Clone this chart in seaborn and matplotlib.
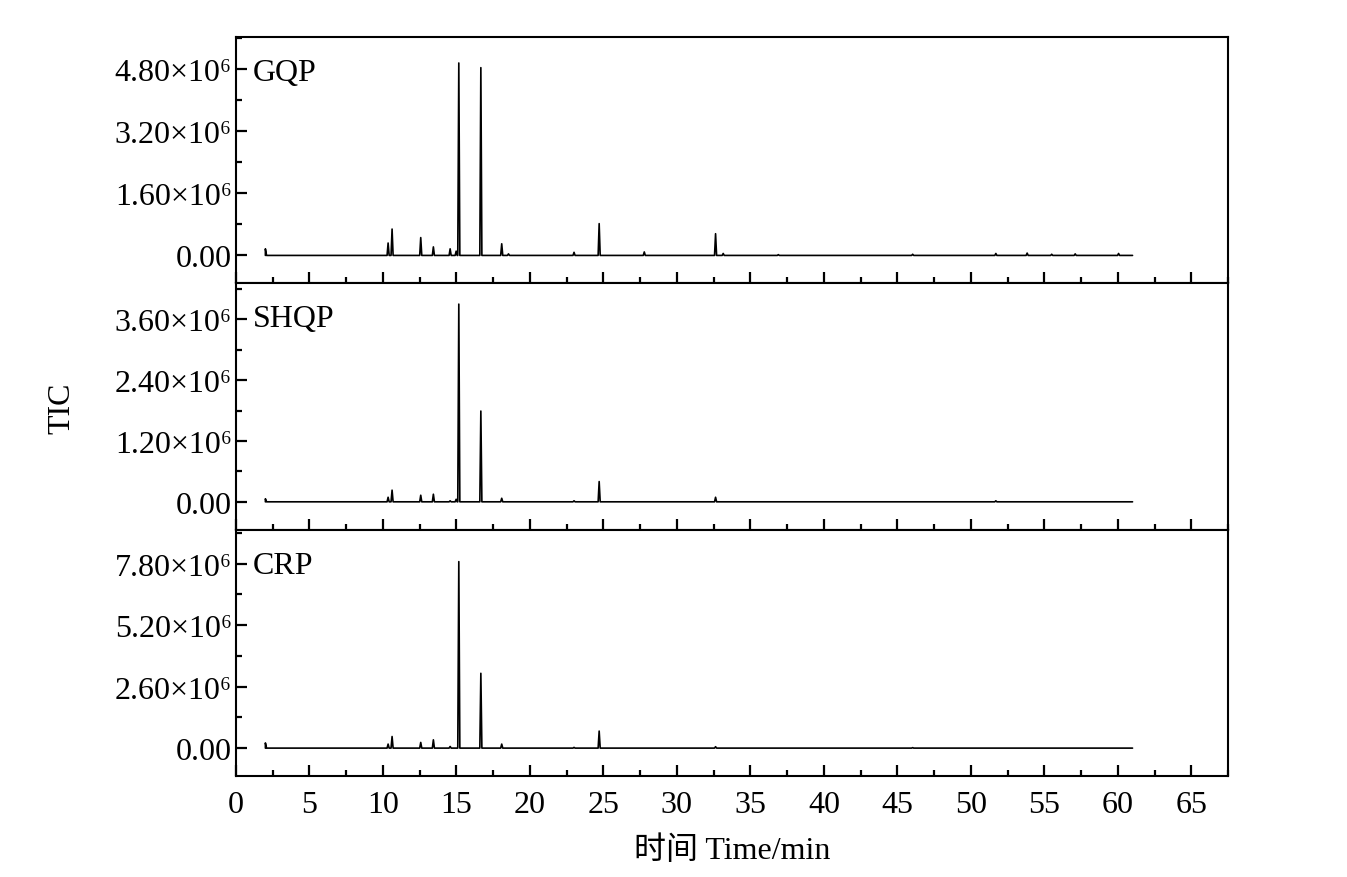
import numpy as np
import pandas as pd
import seaborn as sns
import matplotlib.pyplot as plt
from matplotlib.ticker import MultipleLocator, FuncFormatter

# peak retention times (min) and heights (x10^6)
samples = ["GQP", "SHQP", "CRP"]
run_start = 2.0
run_end = 61.0

gqp_times = [10.35, 10.62, 12.57, 13.43, 14.57, 14.98, 15.16, 16.66, 18.08, 18.54,
             23.0, 24.71, 27.78, 32.63, 33.15, 36.9, 46.04, 51.7, 53.83, 55.5, 57.1, 60.05]
gqp_heights = [0.32, 0.68, 0.46, 0.22, 0.17, 0.11, 4.96, 4.84, 0.30, 0.04,
               0.08, 0.82, 0.09, 0.56, 0.05, 0.02, 0.03, 0.05, 0.06, 0.03, 0.04, 0.05]
gqp_start = 0.17

shqp_times = [10.35, 10.62, 12.57, 13.43, 14.57, 14.98, 15.16, 16.66, 18.08, 23.0, 24.71, 32.63, 51.7]
shqp_heights = [0.09, 0.23, 0.13, 0.15, 0.02, 0.05, 3.90, 1.79, 0.07, 0.02, 0.40, 0.09, 0.02]
shqp_start = 0.06

crp_times = [10.35, 10.62, 12.57, 13.43, 14.57, 15.16, 16.66, 18.08, 23.0, 24.71, 32.63, 46.04]
crp_heights = [0.17, 0.49, 0.24, 0.35, 0.07, 7.88, 3.16, 0.17, 0.03, 0.72, 0.06, 0.02]
crp_start = 0.22

y_step = [1.6e6, 1.2e6, 2.6e6]
y_lims = [(-0.72e6, 5.63e6), (-0.55e6, 4.31e6), (-1.18e6, 9.23e6)]


def build_trace(times, heights, start_h):
    # baseline with narrow triangular peaks at each retention time
    hw = 0.07
    xs = [run_start, run_start, run_start + 0.08]
    ys = [0.0, start_h * 1e6, 0.0]
    for t, h in zip(times, heights):
        xs += [t - hw, t, t + hw]
        ys += [0.0, h * 1e6, 0.0]
    xs.append(run_end)
    ys.append(0.0)
    return pd.DataFrame({"time": xs, "tic": ys})


traces = [build_trace(gqp_times, gqp_heights, gqp_start),
          build_trace(shqp_times, shqp_heights, shqp_start),
          build_trace(crp_times, crp_heights, crp_start)]

sns.set_theme(style="ticks")
plt.rcParams['font.family'] = ['Liberation Serif', 'Noto Sans CJK SC']
plt.rcParams['axes.linewidth'] = 1.5
for key in ['text.color', 'axes.labelcolor', 'xtick.color', 'ytick.color', 'axes.edgecolor']:
    plt.rcParams[key] = 'black'


def fmt(v, pos):
    if abs(v) < 1:
        return "0.00"
    return f"{v / 1e6:.2f}×10\u2076"


fig, axes = plt.subplots(3, 1, figsize=(13.47, 8.78), dpi=100, sharex=True)
fig.subplots_adjust(left=0.1752, right=0.9117, top=0.9567, bottom=0.1150, hspace=0)

for i, ax in enumerate(axes):
    sns.lineplot(data=traces[i], x="time", y="tic", ax=ax, color="black",
                 linewidth=1.2, estimator=None, sort=False)
    ax.set_xlim(0, 67.5)
    ax.set_ylim(*y_lims[i])
    ax.yaxis.set_major_locator(MultipleLocator(y_step[i]))
    ax.yaxis.set_minor_locator(MultipleLocator(y_step[i] / 2))
    ax.yaxis.set_major_formatter(FuncFormatter(fmt))
    ax.xaxis.set_major_locator(MultipleLocator(5))
    ax.xaxis.set_minor_locator(MultipleLocator(2.5))
    ax.tick_params(which="major", direction="in", length=8, width=1.6,
                   labelsize=23, top=False, right=False)
    ax.tick_params(which="minor", direction="in", length=4, width=1.6,
                   top=False, right=False)
    ax.tick_params(axis="x", which="major", pad=10)
    ax.tick_params(axis="y", which="major", pad=3)
    ax.set_xlabel("")
    ax.set_ylabel("")
    ax.text(0.017, 0.915, samples[i], transform=ax.transAxes, fontsize=23,
            ha="left", va="top")
    for s in ax.spines.values():
        s.set_linewidth(1.5)

axes[2].set_xlabel("时间 Time/min", fontsize=23, labelpad=12)
fig.text(0.046, 0.535, "TIC", rotation=90, fontsize=23, ha="center", va="center")

plt.savefig("out.png", dpi=100)
